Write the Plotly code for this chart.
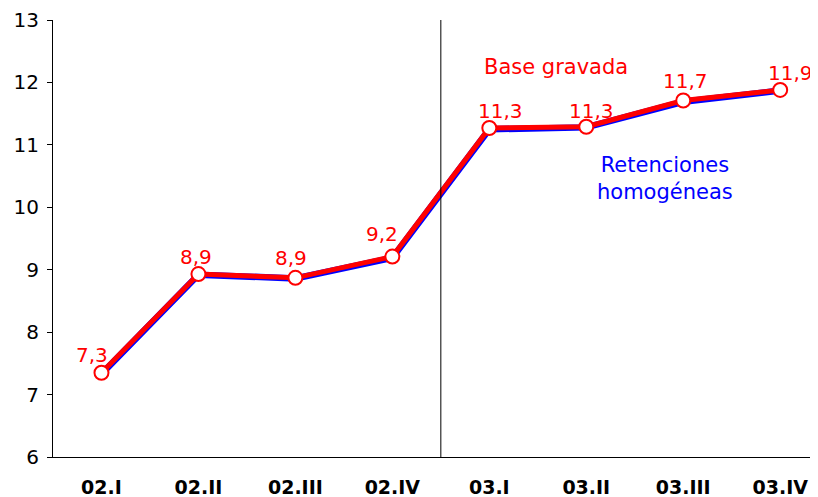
import plotly.graph_objects as go

categories = ["02.I", "02.II", "02.III", "02.IV", "03.I", "03.II", "03.III", "03.IV"]
base_gravada = [7.35, 8.93, 8.87, 9.21, 11.27, 11.29, 11.71, 11.88]
retenciones = [7.33, 8.92, 8.86, 9.19, 11.25, 11.28, 11.69, 11.87]
labels = ["7,3", "8,9", "8,9", "9,2", "11,3", "11,3", "11,7", "11,9"]
label_dx = [-9, -2, -4, -10, 11, 5, 2, 10]
label_dy = [18, 17, 20, 23, 17, 16, 20, 17]

x_idx = list(range(len(categories)))

fig = go.Figure()
fig.add_trace(go.Scatter(
    x=x_idx, y=retenciones, mode="lines+markers",
    line=dict(color="#0000FF", width=6.5),
    marker=dict(symbol="diamond", size=7, color="#0000FF"),
    name="Retenciones homogéneas", showlegend=False, hoverinfo="skip"))
fig.add_trace(go.Scatter(
    x=x_idx, y=base_gravada, mode="lines+markers",
    line=dict(color="#FF0000", width=5),
    marker=dict(symbol="circle", size=14, color="white", line=dict(color="#FF0000", width=2)),
    name="Base gravada", showlegend=False))

for xi, yv, lab, dx, dy in zip(x_idx, base_gravada, labels, label_dx, label_dy):
    fig.add_annotation(x=xi, y=yv, text=lab, showarrow=False, xshift=dx, yshift=dy,
                       font=dict(family="DejaVu Sans", size=20, color="#FF0000"))

fig.add_annotation(x=4.69, y=12.25, text="Base gravada", showarrow=False,
                   font=dict(family="DejaVu Sans", size=21, color="#FF0000"))
fig.add_annotation(x=5.81, y=10.46, text="Retenciones<br>homogéneas", showarrow=False,
                   font=dict(family="DejaVu Sans", size=21, color="#0000FF"))

fig.add_shape(type="line", x0=3.5, x1=3.5, y0=5.92, y1=13, xref="x", yref="y",
              line=dict(color="black", width=1))

fig.update_layout(
    width=810, height=489,
    margin=dict(l=45, r=0, t=12, b=40),
    paper_bgcolor="white", plot_bgcolor="white",
    font=dict(family="DejaVu Sans", color="black"),
    xaxis=dict(range=[-0.5, 7.39], tickmode="array", tickvals=x_idx, ticktext=categories,
               showgrid=False, zeroline=False, showline=True, linecolor="black", linewidth=1,
               ticks="", ticklabelstandoff=13,
               tickfont=dict(family="DejaVu Sans", size=19, color="black", weight="bold")),
    yaxis=dict(range=[6, 13], dtick=1, showgrid=False, zeroline=False, showline=True,
               linecolor="black", linewidth=1, ticks="outside", ticklen=5, tickcolor="black",
               ticklabelstandoff=4,
               tickfont=dict(family="DejaVu Sans", size=20, color="black")),
)

fig.write_html("out.html")
